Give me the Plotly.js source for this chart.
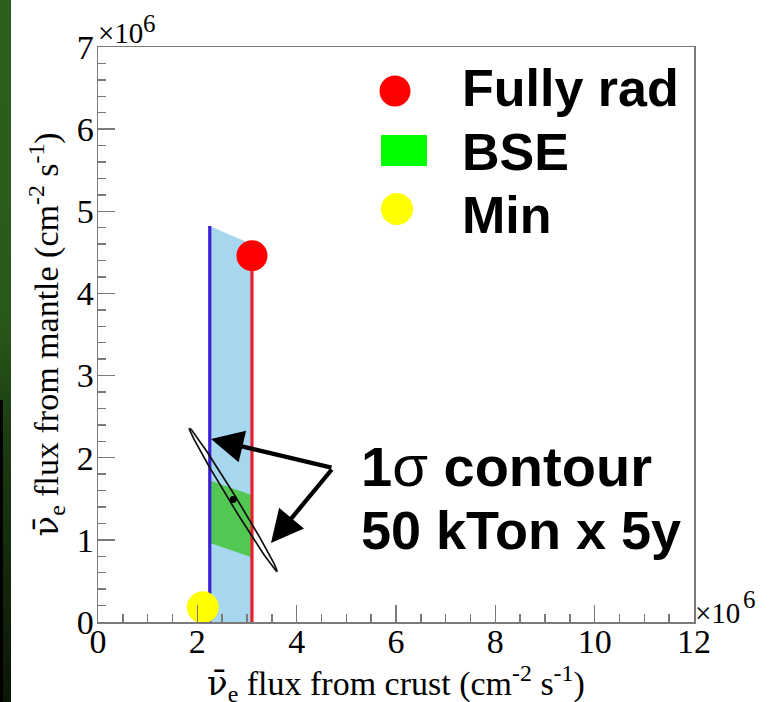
<!DOCTYPE html>
<html><head><meta charset="utf-8">
<script src="https://cdn.plot.ly/plotly-3.0.1.min.js"></script>
<style>
html,body{margin:0;padding:0;background:#fff;overflow:hidden}
#chart{position:absolute;left:0;top:0;width:773px;height:702px}
#strip{position:absolute;left:0;top:0;width:11px;height:702px;background:linear-gradient(to bottom,#2d601c 0%,#295919 45%,#1c3c12 62%,#0c1507 100%);z-index:5}
#bar{position:absolute;left:0;top:400px;width:3px;height:302px;background:#000;z-index:6}
</style></head><body>
<div id="chart"></div><div id="strip"></div><div id="bar"></div>
<script>
// ---- data ----
const xTickVals = [0, 2, 4, 6, 8, 10, 12];
const yTickVals = [0, 1, 2, 3, 4, 5, 6, 7];
const fullyRadX = [3.10], fullyRadY = [4.46];
const minX = [2.11], minY = [0.18];
const bandX = [2.25, 3.10, 3.10, 2.25], bandY = [4.82, 4.60, 0, 0];
const blueX = [2.25, 2.25], blueY = [0, 4.82];
const redX = [3.10, 3.10], redY = [0, 4.46];
const bseX = [2.27, 3.08, 3.08, 2.27], bseY = [1.72, 1.55, 0.79, 0.96];
const fitX = [2.72], fitY = [1.49];
const contourTipX = [1.84, 3.56], contourTipY = [2.36, 0.66];
const contourHalfWidthPx = 3.6;
const legendLabels = ['Fully rad', 'BSE', 'Min'];

// ---- layout geometry ----
const W = 773, H = 702, ML = 98, MR = 79, MT = 47, MB = 80;
const PW = W - ML - MR, PH = H - MT - MB;
const XR = [0, 12], YR = [0, 7];
const sx = PW / (XR[1] - XR[0]), sy = PH / (YR[1] - YR[0]);
const px = p => (p - ML) / PW;           // pixel -> paper x
const py = p => (H - MB - p) / PH;       // pixel -> paper y

// 1-sigma contour ellipse from its centre, tip of major axis and half width
const ellX = [], ellY = [];
(function () {
  const cx = fitX[0], cy = fitY[0];
  const ax = (contourTipX[0] - cx) * sx, ay = (contourTipY[0] - cy) * sy;
  const L = Math.hypot(ax, ay);
  const bx = -ay / L * contourHalfWidthPx, by = ax / L * contourHalfWidthPx;
  for (let i = 0; i <= 120; i++) {
    const t = i / 120 * 2 * Math.PI;
    ellX.push(cx + (Math.cos(t) * ax + Math.sin(t) * bx) / sx);
    ellY.push(cy + (Math.cos(t) * ay + Math.sin(t) * by) / sy);
  }
})();

const traces = [
  {x: bandX, y: bandY, type: 'scatter', mode: 'none', fill: 'toself', fillcolor: '#a7d7ef', hoverinfo: 'skip'},
  {x: bseX, y: bseY, type: 'scatter', mode: 'none', fill: 'toself', fillcolor: '#52c852', hoverinfo: 'skip'},
  {x: blueX, y: blueY, type: 'scatter', mode: 'lines', line: {color: '#3a1fd4', width: 3.2}},
  {x: redX, y: redY, type: 'scatter', mode: 'lines', line: {color: '#e8202c', width: 3.2}},
  {x: ellX, y: ellY, type: 'scatter', mode: 'lines', line: {color: '#111', width: 1.7}},
  {x: fitX, y: fitY, type: 'scatter', mode: 'markers', marker: {color: '#000', size: 7}},
  {x: fullyRadX, y: fullyRadY, type: 'scatter', mode: 'markers', cliponaxis: false, marker: {color: '#ff0000', size: 31, line: {width: 0}}},
  {x: minX, y: minY, type: 'scatter', mode: 'markers', cliponaxis: false, marker: {color: '#ffff00', size: 32, line: {width: 0}}}
];

const serif = 'Liberation Serif, Times New Roman, serif';
const sans = 'Liberation Sans, Arial, sans-serif';

const axisCommon = {
  showgrid: false, zeroline: false, showline: true, mirror: true,
  linecolor: '#7a7a7a', linewidth: 1.5,
  ticks: 'inside', ticklen: 17, tickwidth: 1.5, tickcolor: '#7a7a7a',
  tickfont: {family: serif, size: 34, color: '#000'},
  fixedrange: true
};

const nuBar = '<span style="font-family:DejaVu Serif">ν\u0304</span>';

function txt(xp, yp, text, size, family, xa, ya, extra) {
  return Object.assign({xref: 'paper', yref: 'paper', x: px(xp), y: py(yp), xanchor: xa || 'left', yanchor: ya || 'middle',
    showarrow: false, text: text, font: {family: family, size: size, color: '#000'}}, extra || {});
}

const annotations = [
  // axis titles
  {xref: 'paper', yref: 'paper', x: 0.5, y: py(683), xanchor: 'center', yanchor: 'middle', showarrow: false,
   text: nuBar + '<sub>e</sub> flux from crust (cm<sup>-2</sup> s<sup>-1</sup>)', font: {family: serif, size: 34, color: '#000'}},
  {xref: 'paper', yref: 'paper', x: px(46), y: 0.5, xanchor: 'center', yanchor: 'middle', showarrow: false, textangle: -90,
   text: nuBar + '<sub>e</sub> flux from mantle (cm<sup>-2</sup> s<sup>-1</sup>)', font: {family: serif, size: 34, color: '#000'}},
  // exponent labels (×10 and a raised 6)
  txt(96, 33, '×10', 29, serif),
  txt(141, 24, '6', 25, serif),
  txt(693, 613, '×10', 29, serif),
  txt(741, 599, '6', 25, serif),
  // legend labels
  txt(460, 88, '<b>' + legendLabels[0] + '</b>', 52, sans),
  txt(460, 152, '<b>' + legendLabels[1] + '</b>', 52, sans),
  txt(460, 215, '<b>' + legendLabels[2] + '</b>', 52, sans),
  // contour label
  txt(359, 466, '<b>1</b><span style="font-size:58px">σ</span><b> contour</b>', 56, sans),
  txt(359, 530, '<b>50 kTon x 5y</b>', 54, sans),
  // arrows
  {xref: 'x', yref: 'y', axref: 'x', ayref: 'y', x: (211 - ML) / sx, y: (H - MB - 439) / sy,
   ax: (333 - ML) / sx, ay: (H - MB - 468) / sy, text: '', showarrow: true,
   arrowhead: 2, arrowsize: 1.5, arrowwidth: 4.3, arrowcolor: '#000', standoff: 0},
  {xref: 'x', yref: 'y', axref: 'x', ayref: 'y', x: (271 - ML) / sx, y: (H - MB - 543) / sy,
   ax: (333 - ML) / sx, ay: (H - MB - 468) / sy, text: '', showarrow: true,
   arrowhead: 2, arrowsize: 1.5, arrowwidth: 4.3, arrowcolor: '#000', standoff: 0}
];

const shapes = [
  {type: 'circle', xref: 'paper', yref: 'paper', xsizemode: 'pixel', ysizemode: 'pixel',
   xanchor: px(395), yanchor: py(91), x0: -15.5, x1: 15.5, y0: -15.5, y1: 15.5,
   fillcolor: '#ff0000', line: {width: 0}},
  {type: 'rect', xref: 'paper', yref: 'paper', x0: px(381), x1: px(427), y0: py(166), y1: py(135),
   fillcolor: '#00ff00', line: {width: 0}},
  {type: 'circle', xref: 'paper', yref: 'paper', xsizemode: 'pixel', ysizemode: 'pixel',
   xanchor: px(397), yanchor: py(209), x0: -16, x1: 16, y0: -16, y1: 16,
   fillcolor: '#ffff00', line: {width: 0}}
];

const layout = {
  width: W, height: H,
  margin: {l: ML, r: MR, t: MT, b: MB, pad: 0},
  paper_bgcolor: '#ffffff', plot_bgcolor: '#ffffff',
  showlegend: false,
  xaxis: Object.assign({}, axisCommon, {range: XR, tickmode: 'array', tickvals: xTickVals, ticklabelstandoff: -11,
    minor: {tickmode: 'linear', tick0: 0, dtick: 0.5, ticks: 'inside', ticklen: 8, tickwidth: 1.5, tickcolor: '#7a7a7a'}}),
  yaxis: Object.assign({}, axisCommon, {range: YR, tickmode: 'array', tickvals: yTickVals, ticklabelstandoff: -4,
    minor: {tickmode: 'linear', tick0: 0, dtick: 0.2, ticks: 'inside', ticklen: 8, tickwidth: 1.5, tickcolor: '#7a7a7a'}}),
  annotations: annotations,
  shapes: shapes
};

Plotly.newPlot('chart', traces, layout, {displayModeBar: false, staticPlot: true});
</script>
</body></html>
